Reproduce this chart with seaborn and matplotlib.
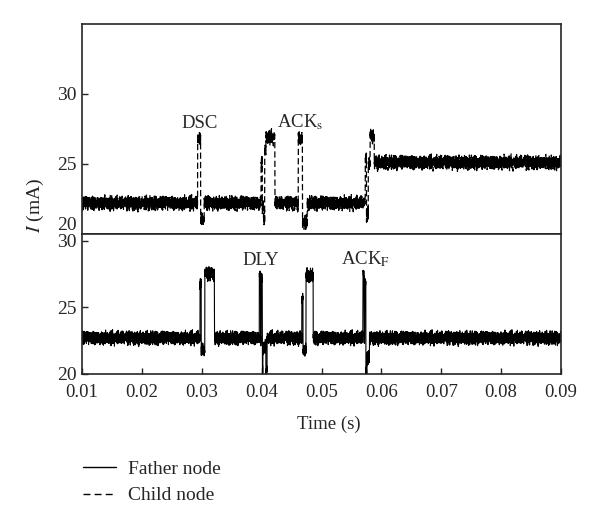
import numpy as np
import pandas as pd
import matplotlib
matplotlib.use("Agg")
import matplotlib.pyplot as plt
from matplotlib.lines import Line2D
import seaborn as sns

# piecewise levels: level[i] holds from edge[i] to edge[i+1]
child_edges = [0.0100, 0.0293, 0.0298, 0.0304, 0.0399, 0.0401, 0.0403, 0.0405,
               0.0407, 0.0422, 0.0461, 0.0468, 0.0476, 0.0573, 0.0575, 0.0578,
               0.0581, 0.0588, 0.0900]
child_levels = [22.2, 26.8, 21.0, 22.2, 25.2, 22.0, 21.1, 26.0,
                26.9, 22.2, 26.8, 20.8, 22.2, 25.4, 21.4, 25.0,
                27.0, 25.1]

father_edges = [0.0100, 0.0297, 0.0299, 0.0305, 0.0321, 0.0396, 0.0398, 0.0399,
                0.0401, 0.0402, 0.0407, 0.0409, 0.0467, 0.0469, 0.0474, 0.0486,
                0.0569, 0.0571, 0.0572, 0.0574, 0.0576, 0.0580, 0.0900]
father_levels = [22.7, 26.7, 21.8, 27.5, 22.7, 27.4, 22.5, 27.1,
                 20.3, 22.0, 20.2, 22.7, 25.6, 21.8, 27.4, 22.7,
                 27.5, 22.5, 26.8, 20.0, 21.2, 22.7]

# hand-typed jitter (mA) to mimic the measurement noise band
jitter_a = [0.12, -0.25, 0.31, -0.08, 0.22, -0.34, 0.05, 0.28, -0.19, 0.14,
            -0.41, 0.36, -0.02, 0.19, -0.27, 0.09, 0.33, -0.15, 0.24, -0.30,
            0.02, 0.17, -0.22, 0.40, -0.11, 0.07, -0.36, 0.26, -0.05]
jitter_b = [0.05, -0.10, 0.18, 0.00, -0.14, 0.08, 0.22, -0.06, -0.20, 0.12,
            0.03, -0.09, 0.15, -0.17, 0.10, -0.03, 0.20, -0.12, 0.06, -0.22,
            0.14, 0.01, -0.07]

x_ticks = [0.01, 0.02, 0.03, 0.04, 0.05, 0.06, 0.07, 0.08, 0.09]
y_ticks = [20, 25, 30]


def build_trace(edges, levels, shift=0):
    t = np.arange(0.0100, 0.0900 + 1e-9, 2e-5)
    idx = np.clip(np.searchsorted(edges, t, side="right") - 1, 0, len(levels) - 1)
    n = np.arange(len(t)) + shift
    jit = np.array(jitter_a)[n % len(jitter_a)] + np.array(jitter_b)[(n * 3) % len(jitter_b)]
    return pd.DataFrame({"t": t, "I": np.array(levels)[idx] + jit})


child = build_trace(child_edges, child_levels, shift=7)
father = build_trace(father_edges, father_levels, shift=0)

sns.set_style("ticks")
plt.rcParams["font.family"] = ["Liberation Serif", "DejaVu Serif"]
plt.rcParams["mathtext.fontset"] = "stix"
plt.rcParams["font.size"] = 13

fig = plt.figure(figsize=(6, 5.15), dpi=100)
ax_top = fig.add_axes([82 / 600, 1 - 234 / 515, 479 / 600, 210 / 515])
ax_bot = fig.add_axes([82 / 600, 1 - 374 / 515, 479 / 600, 140 / 515])

sns.lineplot(data=child, x="t", y="I", ax=ax_top, color="black", lw=0.9,
             dashes=(5, 2.5), estimator=None, sort=False)
sns.lineplot(data=father, x="t", y="I", ax=ax_bot, color="black", lw=0.8,
             estimator=None, sort=False)

ax_top.set_ylim(20, 35)
ax_bot.set_ylim(20, 30.5)
for ax in (ax_top, ax_bot):
    ax.set_xlim(0.01, 0.09)
    ax.set_yticks(y_ticks)
    ax.set_xlabel("")
    ax.set_ylabel("")
    for sp in ax.spines.values():
        sp.set_linewidth(1.2)
        sp.set_visible(True)
    ax.tick_params(axis="y", direction="in", length=4, width=1, pad=4, labelsize=14)

# the shared border: lift the upper "20", drop the lower "30"
ax_top.get_yticklabels()[0].set_va("bottom")
ax_bot.get_yticklabels()[-1].set_va("center_baseline")

ax_top.tick_params(axis="x", bottom=False, labelbottom=False)
ax_bot.set_xticks(x_ticks)
ax_bot.set_xticklabels([f"{v:.2f}" for v in x_ticks])
ax_bot.tick_params(axis="x", direction="in", length=4, width=1, pad=7, labelsize=13.5)

# event labels
ax_top.text(0.0296, 27.3, "DSC", ha="center", va="bottom", fontsize=13.5)
ax_top.text(0.0465, 27.3, r"ACK$_\mathrm{s}$", ha="center", va="bottom", fontsize=13.5)
ax_bot.text(0.0399, 27.9, "DLY", ha="center", va="bottom", fontsize=13.5)
ax_bot.text(0.0573, 27.9, r"ACK$_\mathrm{F}$", ha="center", va="bottom", fontsize=13.5)

fig.text(35 / 600, 1 - 205 / 515, r"$I$ (mA)", rotation=90, ha="center", va="center", fontsize=14)
fig.text(329 / 600, 1 - 424 / 515, "Time (s)", ha="center", va="center", fontsize=13.5)

handles = [Line2D([], [], color="black", lw=1, linestyle="-"),
           Line2D([], [], color="black", lw=1, dashes=(5, 3))]
fig.legend(handles, ["Father node", "Child node"], loc="upper left",
           bbox_to_anchor=(65 / 600, 1 - 443 / 515), frameon=False,
           handlelength=1.7, handletextpad=0.65, labelspacing=0.45, fontsize=14)

fig.savefig("out.png", dpi=100)
